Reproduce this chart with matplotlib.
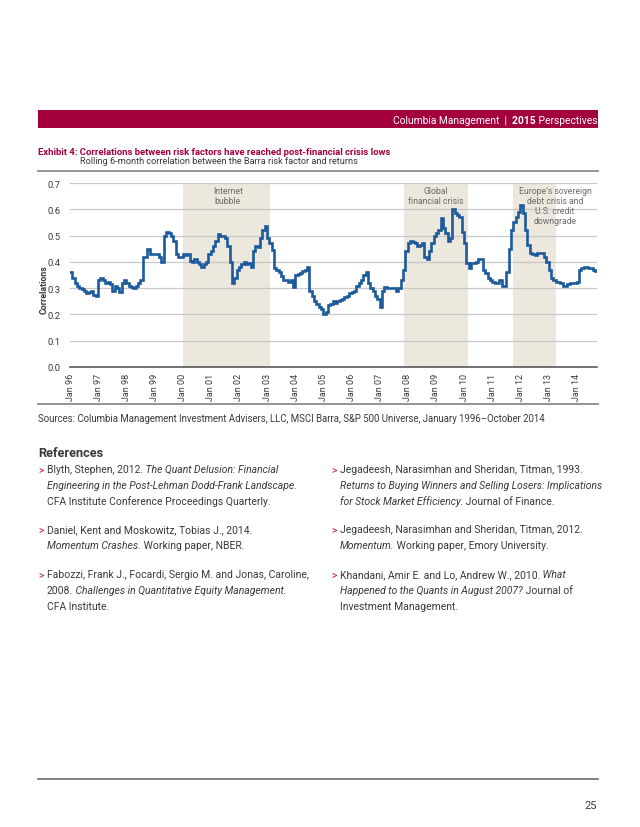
import matplotlib
matplotlib.use('Agg')
import matplotlib.pyplot as plt
from matplotlib import font_manager as fm
import numpy as np

# ---------------- data ----------------
start_year = 1996
# monthly rolling 6-month correlation, Jan 1996 - Oct 2014
correlation = [
    0.36, 0.34, 0.32, 0.31, 0.30, 0.295, 0.29, 0.28, 0.285, 0.29, 0.275, 0.27,   # 1996
    0.33, 0.34, 0.33, 0.32, 0.325, 0.315, 0.29, 0.31, 0.30, 0.285, 0.32, 0.33,   # 1997
    0.32, 0.31, 0.305, 0.30, 0.31, 0.32, 0.33, 0.42, 0.42, 0.45, 0.43, 0.43,     # 1998
    0.43, 0.43, 0.42, 0.40, 0.50, 0.515, 0.51, 0.50, 0.48, 0.43, 0.42, 0.42,     # 1999
    0.43, 0.425, 0.43, 0.405, 0.40, 0.41, 0.40, 0.39, 0.38, 0.39, 0.40, 0.43,    # 2000
    0.44, 0.46, 0.48, 0.505, 0.50, 0.50, 0.49, 0.46, 0.40, 0.32, 0.34, 0.37,     # 2001
    0.38, 0.39, 0.40, 0.39, 0.395, 0.38, 0.44, 0.46, 0.455, 0.49, 0.52, 0.535,   # 2002
    0.49, 0.47, 0.445, 0.375, 0.37, 0.36, 0.345, 0.33, 0.33, 0.325, 0.33, 0.305, # 2003
    0.35, 0.355, 0.356, 0.365, 0.37, 0.38, 0.29, 0.27, 0.25, 0.24, 0.23, 0.22,   # 2004
    0.20, 0.21, 0.235, 0.24, 0.25, 0.245, 0.25, 0.255, 0.26, 0.265, 0.27, 0.28,  # 2005
    0.285, 0.29, 0.31, 0.32, 0.33, 0.35, 0.36, 0.32, 0.30, 0.29, 0.27, 0.26,     # 2006
    0.23, 0.29, 0.305, 0.30, 0.30, 0.30, 0.30, 0.29, 0.30, 0.33, 0.37, 0.44,     # 2007
    0.47, 0.48, 0.475, 0.47, 0.46, 0.465, 0.47, 0.42, 0.41, 0.44, 0.47, 0.50,    # 2008
    0.51, 0.52, 0.566, 0.53, 0.51, 0.48, 0.49, 0.60, 0.585, 0.58, 0.57, 0.515,   # 2009
    0.47, 0.394, 0.375, 0.394, 0.397, 0.40, 0.41, 0.41, 0.37, 0.356, 0.34, 0.33, # 2010
    0.324, 0.318, 0.32, 0.33, 0.31, 0.31, 0.36, 0.45, 0.52, 0.553, 0.57, 0.59,   # 2011
    0.617, 0.585, 0.52, 0.464, 0.433, 0.43, 0.426, 0.433, 0.435, 0.435, 0.42, 0.40,  # 2012
    0.37, 0.337, 0.33, 0.324, 0.324, 0.32, 0.31, 0.31, 0.315, 0.318, 0.32, 0.32,     # 2013
    0.324, 0.37, 0.375, 0.38, 0.38, 0.378, 0.375, 0.37, 0.365, 0.305,                # 2014
]
tick_years = list(range(1996, 2015))
tick_labels = ["Jan %02d" % (y % 100) for y in tick_years]
y_ticks = [0.0, 0.1, 0.2, 0.3, 0.4, 0.5, 0.6, 0.7]
crisis_starts = [2000.0, 2007.85, 2011.72]
crisis_ends = [2003.12, 2010.15, 2013.28]
crisis_labels = ["Internet\nbubble", "Global\nfinancial crisis",
                 "Europe\u2019s sovereign\ndebt crisis and\nU.S. credit\ndowngrade"]
crisis_label_x = [2001.61, 2008.98, 2013.23]

# ---------------- fonts ----------------
def has_font(name):
    try:
        fm.findfont(fm.FontProperties(family=name), fallback_to_default=False)
        return True
    except Exception:
        return False

FONT = 'Liberation Sans Narrow' if has_font('Liberation Sans Narrow') else 'Roboto'
plt.rcParams['font.family'] = [FONT, 'DejaVu Sans']

W, H = 640, 828
fig = plt.figure(figsize=(W / 100, H / 100), dpi=100)
R = fig.canvas.get_renderer()

def fx(px):
    return px / W

def fy(py):
    return 1 - py / H

def raw_w(s, size, weight, style):
    t = fig.text(0, 0, s, fontsize=size, weight=weight, style=style)
    w = t.get_window_extent(renderer=R).width
    t.remove()
    return w

def adv(s, size, weight='normal', style='normal'):
    # pen advance of s (leading space anchors the box at the pen origin)
    return raw_w(' ' + s + '|', size, weight, style) - raw_w(' |', size, weight, style)

def runs(x, y, parts, size, color='#333333', ha='left'):
    # every run after the first starts with a space, so it is anchored at its pen origin
    widths = [adv(s, size, wt, st) for s, wt, st in parts]
    if ha == 'right':
        x = x - sum(widths)
    for (s, wt, st), w in zip(parts, widths):
        fig.text(fx(x), fy(y), s, fontsize=size, weight=wt, style=st,
                 color=color, ha='left', va='center')
        x += w

MAROON = '#A3003E'
TEXT = '#3a3a3a'

# ---------------- header ----------------
fig.patches.append(plt.Rectangle((fx(38), fy(129)), fx(598) - fx(38), fy(111) - fy(129),
                                 transform=fig.transFigure, color=MAROON, lw=0))
runs(597, 120.5, [("Columbia Management  |", 'normal', 'normal'),
                  ("  2015", 'bold', 'normal'),
                  (" Perspectives", 'normal', 'normal')], 7.4, color='white', ha='right')

fig.text(fx(38), fy(153), "Exhibit 4: Correlations between risk factors have reached post-financial crisis lows",
         fontsize=6.8, weight='bold', color=MAROON, va='center')
fig.text(fx(80), fy(162), "Rolling 6-month correlation between the Barra risk factor and returns",
         fontsize=6.6, color=TEXT, va='center')
fig.lines.append(plt.Line2D([fx(38), fx(598)], [fy(172), fy(172)], transform=fig.transFigure,
                            color='#8a8a8a', lw=1.3))

# ---------------- chart ----------------
ax = fig.add_axes([fx(70), fy(368), fx(597) - fx(70), fy(184) - fy(368)])
t = start_year + np.arange(len(correlation)) / 12.0
ax.plot(t, correlation, drawstyle='steps-post', color='#1C5A9C', lw=1.9, zorder=3,
        solid_joinstyle='miter')
for s, e in zip(crisis_starts, crisis_ends):
    ax.axvspan(s, e, color='#ECE8DD', lw=0, zorder=0)
for lab, xc in zip(crisis_labels, crisis_label_x):
    ax.text(xc, 0.688, lab, ha='center', va='top', fontsize=6.2, color='#6b6b6b',
            linespacing=1.15, zorder=4)
ax.set_xlim(1996, 2014.72)
ax.set_ylim(0, 0.7)
ax.set_yticks(y_ticks)
ax.set_yticklabels(["%.1f" % v for v in y_ticks], fontsize=6.8, color=TEXT)
ax.set_xticks(tick_years)
ax.set_xticklabels(tick_labels, rotation=90, fontsize=6.5, color=TEXT)
ax.tick_params(axis='both', length=0)
ax.tick_params(axis='y', pad=7)
ax.tick_params(axis='x', pad=4)
ax.grid(axis='y', color='#c8c8c8', lw=0.9, zorder=1)
ax.set_axisbelow(True)
for sp in ['top', 'left', 'right']:
    ax.spines[sp].set_visible(False)
ax.spines['bottom'].set_color('#5a5a5a')
ax.spines['bottom'].set_linewidth(1.2)
ax.patch.set_alpha(0)
fig.text(fx(44), fy(290), "Correlations", rotation=90, fontsize=6.4, weight='bold',
         color=TEXT, ha='center', va='center')

fig.lines.append(plt.Line2D([fx(38), fx(598)], [fy(405), fy(405)], transform=fig.transFigure,
                            color='#8a8a8a', lw=1.3))

fig.text(fx(38), fy(419), "Sources: Columbia Management Investment Advisers, LLC, MSCI Barra, "
         "S&P 500 Universe, January 1996\u2013October 2014", fontsize=6.95, color=TEXT, va='center')

# ---------------- references ----------------
fig.text(fx(38), fy(454), "References", fontsize=9.2, weight='bold', color=TEXT, va='center')

N, I = 'normal', 'italic'
left_refs = [
    [[("Blyth, Stephen, 2012.", N), (" The Quant Delusion: Financial", I)],
     [("Engineering in the Post-Lehman Dodd-Frank Landscape.", I)],
     [("CFA Institute Conference Proceedings Quarterly.", N)]],
    [[("Daniel, Kent and Moskowitz, Tobias J., 2014.", N)],
     [("Momentum Crashes.", I), (" Working paper, NBER.", N)]],
    [[("Fabozzi, Frank J., Focardi, Sergio M. and Jonas, Caroline,", N)],
     [("2008.", N), (" Challenges in Quantitative Equity Management.", I)],
     [("CFA Institute.", N)]],
]
right_refs = [
    [[("Jegadeesh, Narasimhan and Sheridan, Titman, 1993.", N)],
     [("Returns to Buying Winners and Selling Losers: Implications", I)],
     [("for Stock Market Efficiency.", I), (" Journal of Finance.", N)]],
    [[("Jegadeesh, Narasimhan and Sheridan, Titman, 2012.", N)],
     [("Momentum.", I), (" Working paper, Emory University.", N)]],
    [[("Khandani, Amir E. and Lo, Andrew W., 2010.", N), (" What", I)],
     [("Happened to the Quants in August 2007?", I), (" Journal of", N)],
     [("Investment Management.", N)]],
]
item_y = [470, 530, 575]
line_gap = 16
REF_SIZE = 7.5
for col_x, refs in [(38, left_refs), (331, right_refs)]:
    for y0, item in zip(item_y, refs):
        fig.text(fx(col_x), fy(y0), ">", fontsize=REF_SIZE, color='#C8102E', va='center')
        for k, line in enumerate(item):
            runs(col_x + 9, y0 + k * line_gap, [(s, N, st) for s, st in line], REF_SIZE, color=TEXT)

fig.lines.append(plt.Line2D([fx(38), fx(598)], [fy(780), fy(780)], transform=fig.transFigure,
                            color='#6a6a6a', lw=1.2))
fig.text(fx(597), fy(806), "25", fontsize=8, color=TEXT, ha='right', va='center')

fig.savefig('out.png', dpi=100)
